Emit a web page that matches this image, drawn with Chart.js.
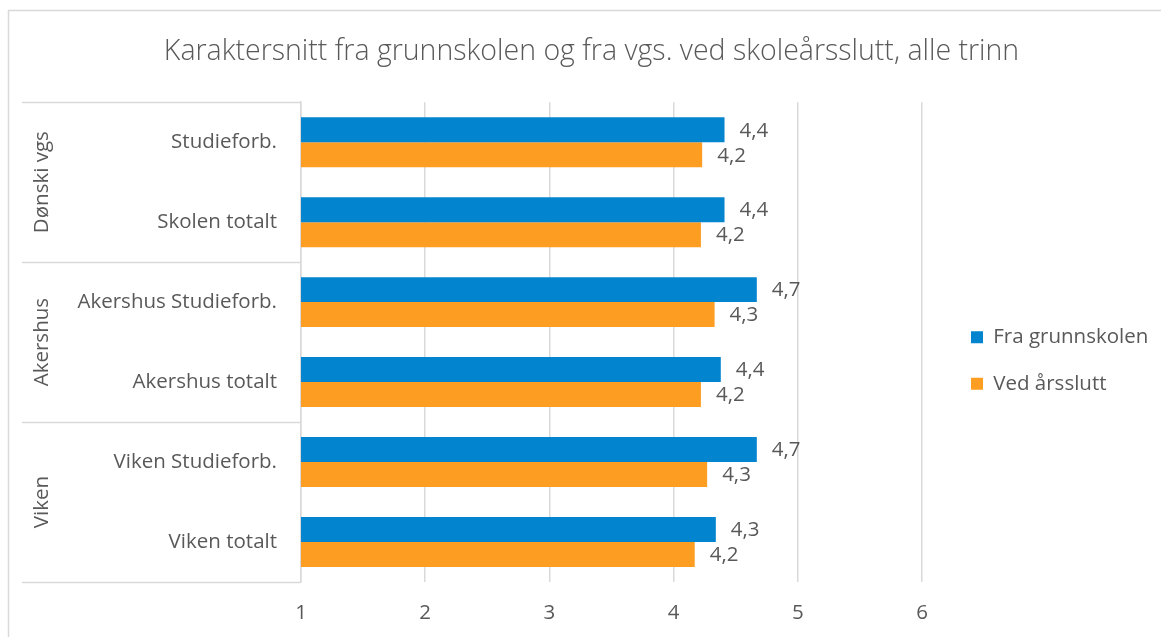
<!DOCTYPE html>
<html>
<head>
<meta charset="utf-8">
<script src="https://cdn.jsdelivr.net/npm/chart.js@4"></script>
<style>
  html, body { margin: 0; padding: 0; background: #fff; }
  #wrap { width: 1161px; height: 637px; }
</style>
</head>
<body>
<div id="wrap"><canvas id="grafico"></canvas></div>
<script>
const kategorier = ['Studieforb.', 'Skolen totalt', 'Akershus Studieforb.', 'Akershus totalt', 'Viken Studieforb.', 'Viken totalt'];
const grupper = ['Dønski vgs', 'Akershus', 'Viken'];
const gruppeStorrelse = [2, 2, 2];
const fraGrunnskolen = [4.41, 4.41, 4.67, 4.38, 4.67, 4.34];
const vedArsslutt = [4.23, 4.22, 4.33, 4.22, 4.27, 4.17];
const xTicks = [1, 2, 3, 4, 5, 6];

const tekstFarge = '#595959';
const linjeFarge = '#d9d9d9';
const font = '"Open Sans"';
const tekstStr = 20.5;

Chart.defaults.font.family = font;
Chart.defaults.color = tekstFarge;

// ramme rundt hele diagrammet
const ramme = {
    id: 'ramme',
    beforeDraw(chart) {
        const ctx = chart.ctx;
        ctx.save();
        ctx.strokeStyle = linjeFarge;
        ctx.lineWidth = 1.5;
        ctx.strokeRect(8.5, 10.5, 1200, 700);
        ctx.restore();
    }
};

// gruppe-etiketter og skillelinjer til venstre
const gruppeAkse = {
    id: 'gruppeAkse',
    afterDraw(chart) {
        const ctx = chart.ctx;
        const y = chart.scales.y;
        const area = chart.chartArea;
        const grense = (i) => {
            if (i <= 0) return area.top;
            if (i >= kategorier.length) return area.bottom;
            return (y.getPixelForValue(i - 1) + y.getPixelForValue(i)) / 2;
        };
        ctx.save();
        ctx.strokeStyle = linjeFarge;
        ctx.lineWidth = 1.5;
        let start = 0;
        const kanter = [0];
        gruppeStorrelse.forEach(n => { start += n; kanter.push(start); });
        kanter.forEach(k => {
            const py = Math.round(grense(k)) + 0.5;
            ctx.beginPath();
            ctx.moveTo(22, py);
            ctx.lineTo(area.left, py);
            ctx.stroke();
        });
        ctx.fillStyle = tekstFarge;
        ctx.font = tekstStr + 'px ' + font;
        ctx.textAlign = 'center';
        ctx.textBaseline = 'middle';
        grupper.forEach((navn, i) => {
            const midt = (grense(kanter[i]) + grense(kanter[i + 1])) / 2;
            ctx.save();
            ctx.translate(42, midt);
            ctx.rotate(-Math.PI / 2);
            ctx.fillText(navn, 0, 0);
            ctx.restore();
        });
        ctx.restore();
    }
};

// verdier ved enden av stolpene
const verdiEtiketter = {
    id: 'verdiEtiketter',
    afterDatasetsDraw(chart) {
        const ctx = chart.ctx;
        ctx.save();
        ctx.fillStyle = tekstFarge;
        ctx.font = tekstStr + 'px ' + font;
        ctx.textAlign = 'left';
        ctx.textBaseline = 'middle';
        chart.data.datasets.forEach((ds, d) => {
            chart.getDatasetMeta(d).data.forEach((bar, i) => {
                const tekst = ds.data[i].toFixed(1).replace('.', ',');
                ctx.fillText(tekst, bar.x + 15, bar.y + 1);
            });
        });
        ctx.restore();
    }
};

const flyttBokser = {
    id: 'flyttBokser',
    afterLayout(chart) {
        if (chart.legend) {
            chart.legend.left += 23;
            chart.legend.right += 23;
            chart.legend.top += 42;
            chart.legend.bottom += 42;
        }
        if (chart.titleBlock) {
            chart.titleBlock.left += 11;
            chart.titleBlock.right += 11;
        }
    }
};

const grafico = new Chart(document.getElementById('grafico'), {
    type: 'bar',
    data: {
        labels: kategorier,
        datasets: [{
            label: 'Fra grunnskolen',
            data: fraGrunnskolen,
            backgroundColor: '#0384ce',
            categoryPercentage: 0.625,
            barPercentage: 1
        }, {
            label: 'Ved årsslutt',
            data: vedArsslutt,
            backgroundColor: '#fd9d21',
            categoryPercentage: 0.625,
            barPercentage: 1
        }]
    },
    options: {
        indexAxis: 'y',
        responsive: true,
        maintainAspectRatio: false,
        animation: false,
        layout: { padding: { top: 0, left: 0, right: 0, bottom: 0 } },
        scales: {
            x: {
                min: 1,
                max: 6,
                afterBuildTicks(scale) {
                    scale.ticks = xTicks.map(v => ({ value: v }));
                },
                grid: { color: linjeFarge, lineWidth: 1.5, drawTicks: false },
                border: { display: false },
                ticks: { font: { size: tekstStr }, color: tekstFarge, padding: 19 },
                afterFit(scale) { scale.height = 55; }
            },
            y: {
                grid: { display: false },
                border: { display: true, color: linjeFarge, width: 1.5 },
                ticks: { font: { size: tekstStr }, color: tekstFarge, padding: 16 },
                afterFit(scale) { scale.width = 301; }
            }
        },
        plugins: {
            title: {
                display: true,
                text: 'Karaktersnitt fra grunnskolen og fra vgs. ved skoleårsslutt, alle trinn',
                font: { size: 28.5, weight: 300 },
                color: tekstFarge,
                padding: { top: 35, bottom: 33 }
            },
            legend: {
                position: 'right',
                labels: {
                    boxWidth: 12,
                    boxHeight: 12,
                    padding: 26,
                    font: { size: tekstStr },
                    color: tekstFarge
                }
            },
            tooltip: { enabled: false }
        }
    },
    plugins: [ramme, gruppeAkse, verdiEtiketter, flyttBokser]
});

const legendeFit = grafico.legend.fit;
grafico.legend.fit = function () {
    legendeFit.call(this);
    this.width = 239;
};
grafico.update();
</script>
</body>
</html>
